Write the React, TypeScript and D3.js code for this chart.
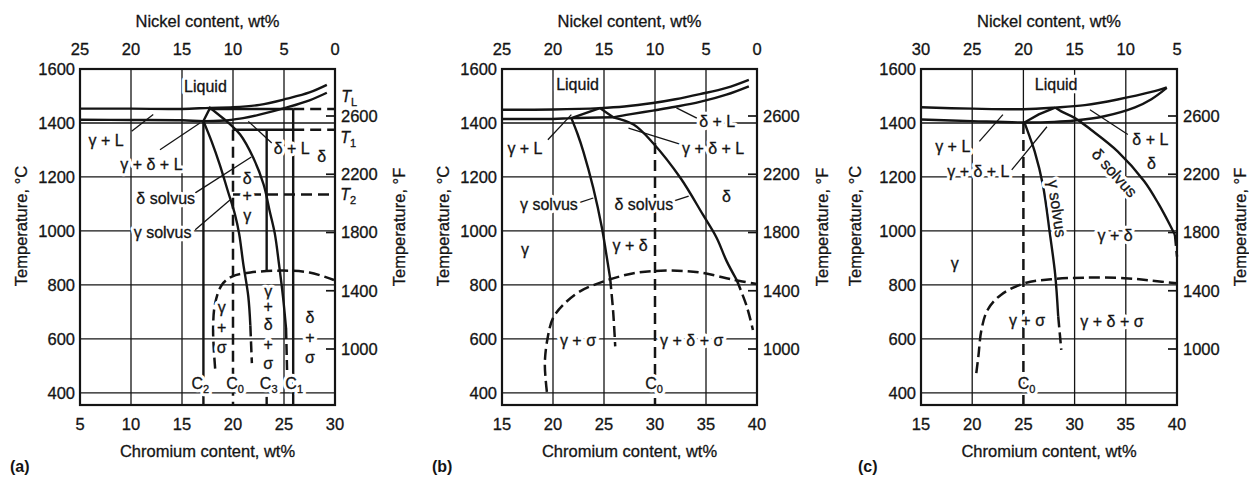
import React from 'react';
import * as d3 from 'd3';

type Pt = [number, number];
type Label = { cr: number; t: number; text: string; sub?: string; italic?: boolean; rot?: number };

const W = 1249;
const H = 479;
const FONT = '"Liberation Sans", Arial, Helvetica, sans-serif';
const INK = '#141414';

// shared temperature axes
const tempDomain: Pt = [355, 1600];
const celsiusTicks = [1600, 1400, 1200, 1000, 800, 600, 400];
const gridTemps = [1400, 1200, 1000, 800, 600, 400];
const fahrenheitTicks = [2600, 2200, 1800, 1400, 1000];

// ---------- (a) Cr 5-30, Ni = 30 - Cr ----------
const aCrTicks = [5, 10, 15, 20, 25, 30];
const aNiTicks = [25, 20, 15, 10, 5, 0];
const aLiquidus: Pt[] = [[5, 1453], [10, 1453], [15, 1452], [17.75, 1456], [20, 1458], [22.6, 1467], [25.3, 1490], [27.5, 1513], [29.2, 1541]];
const aGammaSolidus: Pt[] = [[5, 1412], [10, 1411], [15, 1410], [17.1, 1407], [19.3, 1409]];
const aDeltaSolidus: Pt[] = [[19.3, 1409], [21, 1418], [22.6, 1431], [25.3, 1458], [27.5, 1484], [29.2, 1512]];
const aTriangle: Pt[] = [[17.1, 1407], [17.75, 1456], [19.3, 1409]];
const aGammaSolvus: Pt[] = [[17.1, 1407], [17.9, 1332], [18.7, 1246], [19.5, 1147], [20.2, 1060], [20.6, 990], [21.0, 880], [21.5, 757], [21.7, 650]];
const aGammaSolvusExt: Pt[] = [[21.7, 650], [21.85, 510]];
const aDeltaSolvus: Pt[] = [[19.3, 1409], [20.7, 1357], [22.0, 1270], [23.0, 1172], [23.6, 1073], [24.1, 990], [24.5, 880], [24.9, 757], [25.2, 640]];
const aDeltaSolvusExt: Pt[] = [[25.2, 640], [25.3, 485]];
const aSigma: Pt[] = [[18.25, 490], [18.05, 633], [18.25, 732], [18.9, 800], [19.9, 831], [21.7, 846], [24.9, 853], [27.5, 846], [29.9, 818]];
const aC2: Pt[] = [[17.1, 1407], [17.1, 355]];
const aC0: Pt[] = [[20, 1375], [20, 355]];
const aC3: Pt[] = [[23.3, 1375], [23.3, 853]];
const aC3Foot: Pt[] = [[23.3, 385], [23.3, 355]];
const aC1: Pt[] = [[25.9, 1452], [25.9, 355]];
const aTLSolid: Pt[] = [[17.75, 1452], [25.9, 1452]];
const aTLDash: Pt[] = [[25.9, 1452], [30, 1452]];
const aT1Solid: Pt[] = [[20, 1375], [25.9, 1375]];
const aT1Dash: Pt[] = [[25.9, 1375], [30, 1375]];
const aT2Dash: Pt[] = [[20, 1135], [30, 1135]];
const aPointers: Pt[][] = [
  [[10.06, 1369], [12.18, 1431]],
  [[12.84, 1301], [16.76, 1400]],
  [[21.5, 1406], [23.8, 1326]],
  [[16.3, 1141], [21.8, 1274]],
  [[16.3, 1004], [19.7, 1115]],
];
const aLabels: Label[] = [
  { cr: 17.3, t: 1537, text: 'Liquid' },
  { cr: 7.55, t: 1337, text: 'γ + L' },
  { cr: 12.0, t: 1246, text: 'γ + δ + L' },
  { cr: 25.75, t: 1307, text: 'δ + L' },
  { cr: 28.7, t: 1278, text: 'δ' },
  { cr: 21.4, t: 1196, text: 'δ' },
  { cr: 21.4, t: 1130, text: '+' },
  { cr: 21.4, t: 1056, text: 'γ' },
  { cr: 13.4, t: 1122, text: 'δ solvus' },
  { cr: 13.1, t: 993, text: 'γ solvus' },
  { cr: 18.9, t: 715, text: 'γ' },
  { cr: 18.9, t: 641, text: '+' },
  { cr: 18.9, t: 567, text: 'σ' },
  { cr: 23.45, t: 775, text: 'γ' },
  { cr: 23.45, t: 720, text: '+' },
  { cr: 23.45, t: 652, text: 'δ' },
  { cr: 23.45, t: 578, text: '+' },
  { cr: 23.45, t: 510, text: 'σ' },
  { cr: 27.55, t: 678, text: 'δ' },
  { cr: 27.55, t: 604, text: '+' },
  { cr: 27.55, t: 530, text: 'σ' },
  { cr: 16.8, t: 436, text: 'C', sub: '2' },
  { cr: 20.2, t: 436, text: 'C', sub: '0' },
  { cr: 23.5, t: 436, text: 'C', sub: '3' },
  { cr: 26.0, t: 436, text: 'C', sub: '1' },
  { cr: 31.4, t: 1500, text: 'T', sub: 'L', italic: true },
  { cr: 31.3, t: 1348, text: 'T', sub: '1', italic: true },
  { cr: 31.3, t: 1137, text: 'T', sub: '2', italic: true },
];

// ---------- (b) Cr 15-40, Ni = 40 - Cr ----------
const bCrTicks = [15, 20, 25, 30, 35, 40];
const bNiTicks = [25, 20, 15, 10, 5, 0];
const bLiquidus: Pt[] = [[15, 1449], [20, 1450], [24.6, 1455], [27, 1461], [29.8, 1474], [32, 1488], [34.4, 1507], [37, 1530], [39.2, 1560]];
const bGammaSolidus: Pt[] = [[15, 1415], [20, 1415], [21.8, 1418], [25.9, 1421]];
const bDeltaSolidus: Pt[] = [[25.9, 1421], [27.5, 1432], [29.8, 1446], [32, 1460], [34.4, 1478], [37, 1505], [39.2, 1536]];
const bTriangle: Pt[] = [[21.8, 1418], [24.6, 1455], [25.9, 1421]];
const bGammaSolvus: Pt[] = [[21.8, 1418], [22.4, 1360], [22.97, 1295], [23.95, 1159], [24.8, 1011], [25.2, 920], [25.6, 825]];
const bGammaSolvusExt: Pt[] = [[25.6, 825], [25.9, 700], [26.1, 572]];
const bDeltaSolvus: Pt[] = [[25.9, 1421], [27.9, 1394], [29.8, 1326], [32.5, 1196], [34.7, 1060], [36.05, 974], [37.0, 890], [38.0, 819]];
const bDeltaSolvusExt: Pt[] = [[38.0, 819], [39.0, 720], [39.6, 633]];
const bSigma: Pt[] = [[19.4, 404], [19.2, 510], [19.5, 609], [20.0, 677], [21.0, 726], [22.6, 775], [24.9, 812], [27.9, 843], [31.1, 853], [34.4, 846], [37.7, 819], [40, 803]];
const bC0: Pt[] = [[30, 1326], [30, 355]];
const bPointers: Pt[][] = [
  [[19.5, 1338], [21.8, 1431]],
  [[32.1, 1456], [34.1, 1418]],
  [[27.4, 1381], [32.6, 1320]],
  [[22.5, 1104], [23.95, 1122]],
  [[31.8, 1110], [33.3, 1129]],
];
const bLabels: Label[] = [
  { cr: 22.4, t: 1542, text: 'Liquid' },
  { cr: 17.25, t: 1307, text: 'γ + L' },
  { cr: 36.1, t: 1406, text: 'δ + L' },
  { cr: 35.7, t: 1307, text: 'γ + δ + L' },
  { cr: 19.6, t: 1097, text: 'γ solvus' },
  { cr: 28.9, t: 1097, text: 'δ solvus' },
  { cr: 37.0, t: 1129, text: 'δ' },
  { cr: 17.25, t: 930, text: 'γ' },
  { cr: 27.55, t: 948, text: 'γ + δ' },
  { cr: 22.45, t: 596, text: 'γ + σ' },
  { cr: 33.6, t: 596, text: 'γ + δ + σ' },
  { cr: 29.9, t: 436, text: 'C', sub: '0' },
];

// ---------- (c) Cr 15-40, Ni = 45 - Cr ----------
const cCrTicks = [15, 20, 25, 30, 35, 40];
const cNiTicks = [30, 25, 20, 15, 10, 5];
const cLiquidus: Pt[] = [[15, 1458], [20, 1453], [25, 1451], [28.1, 1457], [31, 1466], [34.2, 1487], [37.5, 1515], [39, 1532]];
const cSolidus: Pt[] = [[15, 1413], [20, 1407], [25.1, 1402], [28, 1404], [30, 1409], [32.9, 1425], [35.9, 1458], [37.5, 1488], [39, 1530]];
const cTriangle: Pt[] = [[25.1, 1402], [26.5, 1432], [28.1, 1457]];
const cGammaSolvus: Pt[] = [[25.1, 1402], [25.6, 1350], [26.1, 1295], [26.9, 1171], [27.6, 986], [28.1, 840], [28.4, 683]];
const cGammaSolvusExt: Pt[] = [[28.4, 683], [28.7, 559]];
const cDeltaSolvus: Pt[] = [[28.1, 1457], [28.7, 1443], [30.0, 1419], [31.6, 1375], [34.2, 1295], [36.8, 1184], [38.2, 1100], [39.3, 1023], [39.8, 985]];
const cDeltaSolvusExt: Pt[] = [[39.8, 985], [40, 905]];
const cSigma: Pt[] = [[20.4, 473], [20.6, 534], [20.9, 633], [21.5, 707], [22.8, 763], [25.1, 806], [27.7, 821], [31.0, 827], [34.9, 825], [37.5, 816], [40, 806]];
const cC0: Pt[] = [[25, 1400], [25, 355]];
const cPointers: Pt[][] = [
  [[20.7, 1332], [23.0, 1431]],
  [[23.86, 1226], [27.3, 1386]],
  [[31.5, 1449], [35.2, 1357]],
];
const cLabels: Label[] = [
  { cr: 28.2, t: 1542, text: 'Liquid' },
  { cr: 18.1, t: 1315, text: 'γ + L' },
  { cr: 20.6, t: 1220, text: 'γ + δ + L' },
  { cr: 37.4, t: 1338, text: 'δ + L' },
  { cr: 37.5, t: 1252, text: 'δ' },
  { cr: 33.9, t: 1215, text: 'δ solvus', rot: 48 },
  { cr: 28.3, t: 1083, text: 'γ solvus', rot: 82 },
  { cr: 33.95, t: 985, text: 'γ + δ' },
  { cr: 18.3, t: 880, text: 'γ' },
  { cr: 25.35, t: 670, text: 'γ + σ' },
  { cr: 33.65, t: 664, text: 'γ + δ + σ' },
  { cr: 25.3, t: 436, text: 'C', sub: '0' },
];

interface Spec {
  tag: string;
  tagX: number;
  x0: number;
  x1: number;
  crTicks: number[];
  niTicks: number[];
  niSum: number;
  leftTitleX: number;
  rightTitleX: number;
  c0: Pt[];
  smooth: Pt[][];
  smoothDashed: Pt[][];
  straight: Pt[][];
  straightDashed: Pt[][];
  pointers: Pt[][];
  labels: Label[];
}

const panels: Spec[] = [
  {
    tag: '(a)', tagX: 10, x0: 80, x1: 335, crTicks: aCrTicks, niTicks: aNiTicks, niSum: 30,
    leftTitleX: 21, rightTitleX: 399, c0: aC0,
    smooth: [aLiquidus, aGammaSolidus, aDeltaSolidus, aGammaSolvus, aDeltaSolvus],
    smoothDashed: [aSigma, aGammaSolvusExt, aDeltaSolvusExt],
    straight: [aTriangle, aC2, aC3, aC3Foot, aC1, aTLSolid, aT1Solid],
    straightDashed: [aC0, aTLDash, aT1Dash, aT2Dash],
    pointers: aPointers, labels: aLabels,
  },
  {
    tag: '(b)', tagX: 432, x0: 502, x1: 757, crTicks: bCrTicks, niTicks: bNiTicks, niSum: 40,
    leftTitleX: 443, rightTitleX: 822, c0: bC0,
    smooth: [bLiquidus, bGammaSolidus, bDeltaSolidus, bGammaSolvus, bDeltaSolvus],
    smoothDashed: [bSigma, bGammaSolvusExt, bDeltaSolvusExt],
    straight: [bTriangle],
    straightDashed: [bC0],
    pointers: bPointers, labels: bLabels,
  },
  {
    tag: '(c)', tagX: 858, x0: 921, x1: 1177, crTicks: cCrTicks, niTicks: cNiTicks, niSum: 45,
    leftTitleX: 855, rightTitleX: 1240, c0: cC0,
    smooth: [cLiquidus, cSolidus, cGammaSolvus, cDeltaSolvus],
    smoothDashed: [cSigma, cGammaSolvusExt, cDeltaSolvusExt],
    straight: [cTriangle],
    straightDashed: [cC0],
    pointers: cPointers, labels: cLabels,
  },
];

const axisText = { fontSize: 16.5, fill: INK, stroke: INK, strokeWidth: 0.3 };

function Panel({ p }: { p: Spec }) {
  const x = d3.scaleLinear([p.crTicks[0], p.crTicks[p.crTicks.length - 1]], [p.x0, p.x1]);
  const xNi = d3.scaleLinear([p.niSum - p.crTicks[0], p.niSum - p.crTicks[p.crTicks.length - 1]], [p.x0, p.x1]);
  const y = d3.scaleLinear(tempDomain, [405, 69]);
  const yF = d3.scaleLinear([1000, 2600], [349, 116]);
  const smooth = d3.line<Pt>(d => x(d[0]), d => y(d[1])).curve(d3.curveCatmullRom.alpha(0.5));
  const straight = d3.line<Pt>(d => x(d[0]), d => y(d[1]));
  const yTop = y(1600);
  const yBot = y(tempDomain[0]);
  const cx = (p.x0 + p.x1) / 2;
  const c0x = p.c0[0][0];

  return (
    <g>
      {/* grid */}
      {p.crTicks.slice(1, -1).map(c => (
        <line key={'v' + c} x1={x(c)} x2={x(c)} y1={yTop} y2={c === c0x ? y(p.c0[0][1]) : yBot}
          stroke={INK} strokeWidth={1.3} />
      ))}
      {gridTemps.map(t => (
        <line key={'h' + t} x1={p.x0} x2={p.x1} y1={y(t)} y2={y(t)} stroke={INK} strokeWidth={1.3} />
      ))}
      {/* °F ticks */}
      {fahrenheitTicks.map(f => (
        <line key={'f' + f} x1={p.x1 - 9} x2={p.x1} y1={yF(f)} y2={yF(f)} stroke={INK} strokeWidth={1.7} />
      ))}
      {/* phase boundaries */}
      {p.smooth.map((d, i) => (
        <path key={'s' + i} d={smooth(d) || ''} fill="none" stroke={INK} strokeWidth={2.4} />
      ))}
      {p.smoothDashed.map((d, i) => (
        <path key={'sd' + i} d={smooth(d) || ''} fill="none" stroke={INK} strokeWidth={2.5} strokeDasharray="11,5" />
      ))}
      {p.straight.map((d, i) => (
        <path key={'l' + i} d={straight(d) || ''} fill="none" stroke={INK} strokeWidth={2.4} />
      ))}
      {p.straightDashed.map((d, i) => (
        <path key={'ld' + i} d={straight(d) || ''} fill="none" stroke={INK} strokeWidth={2.5} strokeDasharray="11,6" />
      ))}
      {p.pointers.map((d, i) => (
        <path key={'p' + i} d={straight(d) || ''} fill="none" stroke={INK} strokeWidth={1.3} />
      ))}
      {/* region labels, with a white halo that breaks the lines under them */}
      {p.labels.map((l, i) => {
        const lx = x(l.cr);
        const ly = y(l.t);
        const rot = l.rot ? `rotate(${l.rot} ${lx} ${ly})` : undefined;
        const body = (
          <>
            <tspan fontStyle={l.italic ? 'italic' : undefined}>{l.text}</tspan>
            {l.sub && <tspan fontSize={11} dy={4}>{l.sub}</tspan>}
          </>
        );
        return (
          <g key={'t' + i} transform={rot}>
            <text x={lx} y={ly} dy="0.35em" textAnchor="middle" fontSize={16} fill="#fff"
              stroke="#fff" strokeWidth={6.5} strokeLinejoin="round">{body}</text>
            <text x={lx} y={ly} dy="0.35em" textAnchor="middle" fontSize={16} fill={INK}
              stroke={INK} strokeWidth={0.3}>{body}</text>
          </g>
        );
      })}
      {/* frame */}
      <rect x={p.x0} y={yTop} width={p.x1 - p.x0} height={yBot - yTop} fill="none" stroke={INK} strokeWidth={2.2} />
      {/* axes text */}
      {celsiusTicks.map(t => (
        <text key={'cl' + t} x={p.x0 - 5} y={y(t)} dy="0.35em" textAnchor="end" {...axisText}>{t}</text>
      ))}
      {fahrenheitTicks.map(f => (
        <text key={'fl' + f} x={p.x1 + 6} y={yF(f)} dy="0.35em" textAnchor="start" {...axisText}>{f}</text>
      ))}
      {p.crTicks.map(c => (
        <text key={'cr' + c} x={x(c)} y={424} dy="0.35em" textAnchor="middle" {...axisText}>{c}</text>
      ))}
      {p.niTicks.map(n => (
        <text key={'ni' + n} x={xNi(n)} y={49} dy="0.35em" textAnchor="middle" {...axisText}>{n}</text>
      ))}
      <text x={cx} y={21} dy="0.35em" textAnchor="middle" {...axisText}>Nickel content, wt%</text>
      <text x={cx} y={451} dy="0.35em" textAnchor="middle" {...axisText}>Chromium content, wt%</text>
      <text transform={`translate(${p.leftTitleX},226) rotate(-90)`} dy="0.35em" textAnchor="middle" {...axisText}>
        Temperature, °C
      </text>
      <text transform={`translate(${p.rightTitleX},227) rotate(-90)`} dy="0.35em" textAnchor="middle" {...axisText}>
        Temperature, °F
      </text>
      <text x={p.tagX} y={466} dy="0.35em" fontSize={16} fontWeight="bold" fill={INK}>{p.tag}</text>
    </g>
  );
}

export default function App() {
  return (
    <svg width={W} height={H} viewBox={`0 0 ${W} ${H}`} fontFamily={FONT}
      style={{ position: 'absolute', left: 0, top: 0, display: 'block', background: '#fff' }}>
      <rect width={W} height={H} fill="#fff" />
      {panels.map(p => <Panel key={p.tag} p={p} />)}
    </svg>
  );
}
